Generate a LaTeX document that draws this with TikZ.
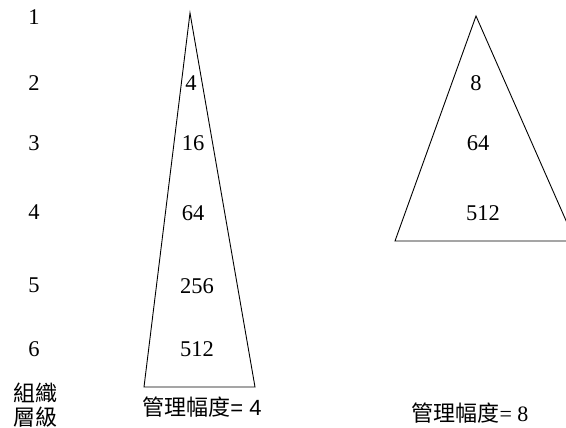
\documentclass[tikz,border=0pt]{standalone}
\usepackage{fontspec}
\setmainfont{Liberation Serif}
\newfontfamily\cjk{Noto Sans CJK TC}
\newfontfamily\arial{Liberation Sans}
\begin{document}
\begin{tikzpicture}[x=1pt,y=-1pt,
  num/.style={font=\fontsize{22.5}{24}\selectfont, inner sep=0pt, anchor=center},
  captext/.style={font=\cjk\fontsize{22}{24}\selectfont, inner sep=0pt, anchor=center, align=center},
  tri/.style={draw=black, line width=0.9pt, line join=miter}]
\useasboundingbox (0,0) rectangle (566,428);
\clip (0,0) rectangle (566,428);
% level numbers
\node[num] (l1) at (34,17) {1};
\node[num] (l2) at (34,83) {2};
\node[num] (l3) at (34,143) {3};
\node[num] (l4) at (34,212) {4};
\node[num] (l5) at (34,285) {5};
\node[num] (l6) at (34,349) {6};
\node[captext] (lvl) at (35,405) {組織\\層級};
% left triangle
\coordinate (la) at (190,13);
\coordinate (lb) at (144,387);
\coordinate (lc) at (255,387);
\draw[tri] (la) -- (lb) -- (lc) -- cycle;
\node[num] (a2) at (191,83) {4};
\node[num] (a3) at (193,143) {16};
\node[num] (a4) at (193,213) {64};
\node[num] (a5) at (197,286) {256};
\node[num] (a6) at (197,349) {512};
\node[captext] (sl) at (202,407) {管理幅度{\arial = 4}};
% right triangle
\coordinate (ra) at (476,16);
\coordinate (rb) at (395,241);
\coordinate (rc) at (575,241);
\draw[tri] (ra) -- (rb) -- (rc) -- cycle;
\node[num] (b2) at (476,83) {8};
\node[num] (b3) at (478,143) {64};
\node[num] (b4) at (483,213) {512};
\node[captext] (sr) at (470,413) {管理幅度{\rmfamily = 8}};
\end{tikzpicture}
\end{document}
